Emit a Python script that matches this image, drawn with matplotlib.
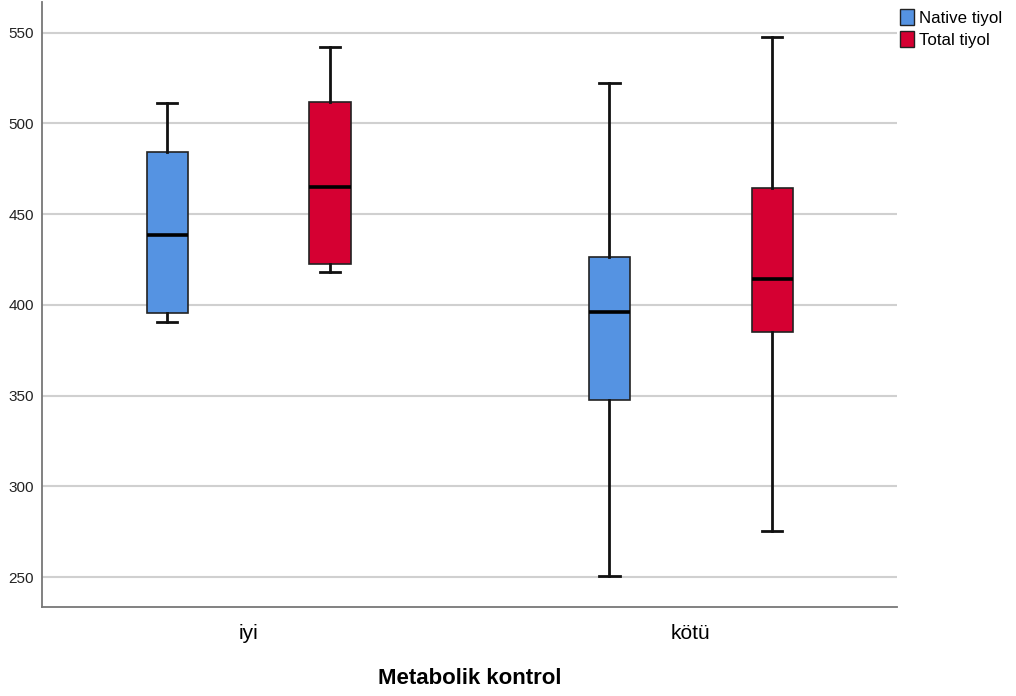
import matplotlib
matplotlib.use('Agg')
import numpy as np
from matplotlib import pyplot as plt
from matplotlib.patches import Patch

plt.rcParams['font.family'] = ['Liberation Sans', 'DejaVu Sans']

groups = ['iyi', 'kötü']
series = ['Native tiyol', 'Total tiyol']
colors = ['#5593E2', '#D50032']

# whisker low, Q1, median, Q3, whisker high
native = {
    'low':  [390.6, 250.8],
    'q1':   [395.2, 347.4],
    'med':  [438.4, 395.8],
    'q3':   [484.1, 426.1],
    'high': [511.3, 522.3],
}
total = {
    'low':  [418.1, 275.4],
    'q1':   [422.2, 385.1],
    'med':  [465.0, 414.0],
    'q3':   [511.7, 464.4],
    'high': [542.0, 547.5],
}
yticks = [250, 300, 350, 400, 450, 500, 550]

fig = plt.figure(figsize=(10.16, 6.96), dpi=100)
ax = fig.add_axes([0.0413, 0.1279, 0.8416, 0.8692])

ax.set_axisbelow(True)
ax.yaxis.grid(True, color='#d0d0d0', linewidth=1.5)

x = np.arange(len(groups))
offset = 0.184
for k, (d, col) in enumerate(zip([native, total], colors)):
    stats = []
    for i in range(len(groups)):
        stats.append({'whislo': d['low'][i], 'q1': d['q1'][i], 'med': d['med'][i],
                      'q3': d['q3'][i], 'whishi': d['high'][i], 'fliers': []})
    pos = x + (-offset if k == 0 else offset)
    ax.bxp(stats, positions=pos, widths=0.093, patch_artist=True,
           showfliers=False, manage_ticks=False,
           boxprops=dict(facecolor=col, edgecolor='#222222', linewidth=1.2),
           medianprops=dict(color='black', linewidth=2.6),
           whiskerprops=dict(color='#111111', linewidth=2),
           capprops=dict(color='#111111', linewidth=2),
           capwidths=0.046)

ax.set_xlim(-0.467, 1.466)
ax.set_ylim(233.5, 566.8)
ax.set_yticks(yticks)
ax.set_xticks(x)
ax.set_xticklabels(groups, fontsize=15)
ax.tick_params(axis='y', length=0, pad=6, labelsize=11, colors='#222222')
ax.tick_params(axis='x', length=0, pad=12)
for s in ['top', 'right']:
    ax.spines[s].set_visible(False)
for s in ['left', 'bottom']:
    ax.spines[s].set_color('#777777')
    ax.spines[s].set_linewidth(1.3)

ax.set_xlabel('Metabolik kontrol', fontsize=16, fontweight='bold', labelpad=18)

handles = [Patch(facecolor=c, edgecolor='#222222', label=l) for c, l in zip(colors, series)]
fig.legend(handles=handles, loc='upper left', bbox_to_anchor=(0.879, 0.997),
           frameon=False, fontsize=12.2, handlelength=0.85, handleheight=1.1,
           handletextpad=0.3, labelspacing=0.3, borderaxespad=0)

fig.savefig('out.png', dpi=100)
